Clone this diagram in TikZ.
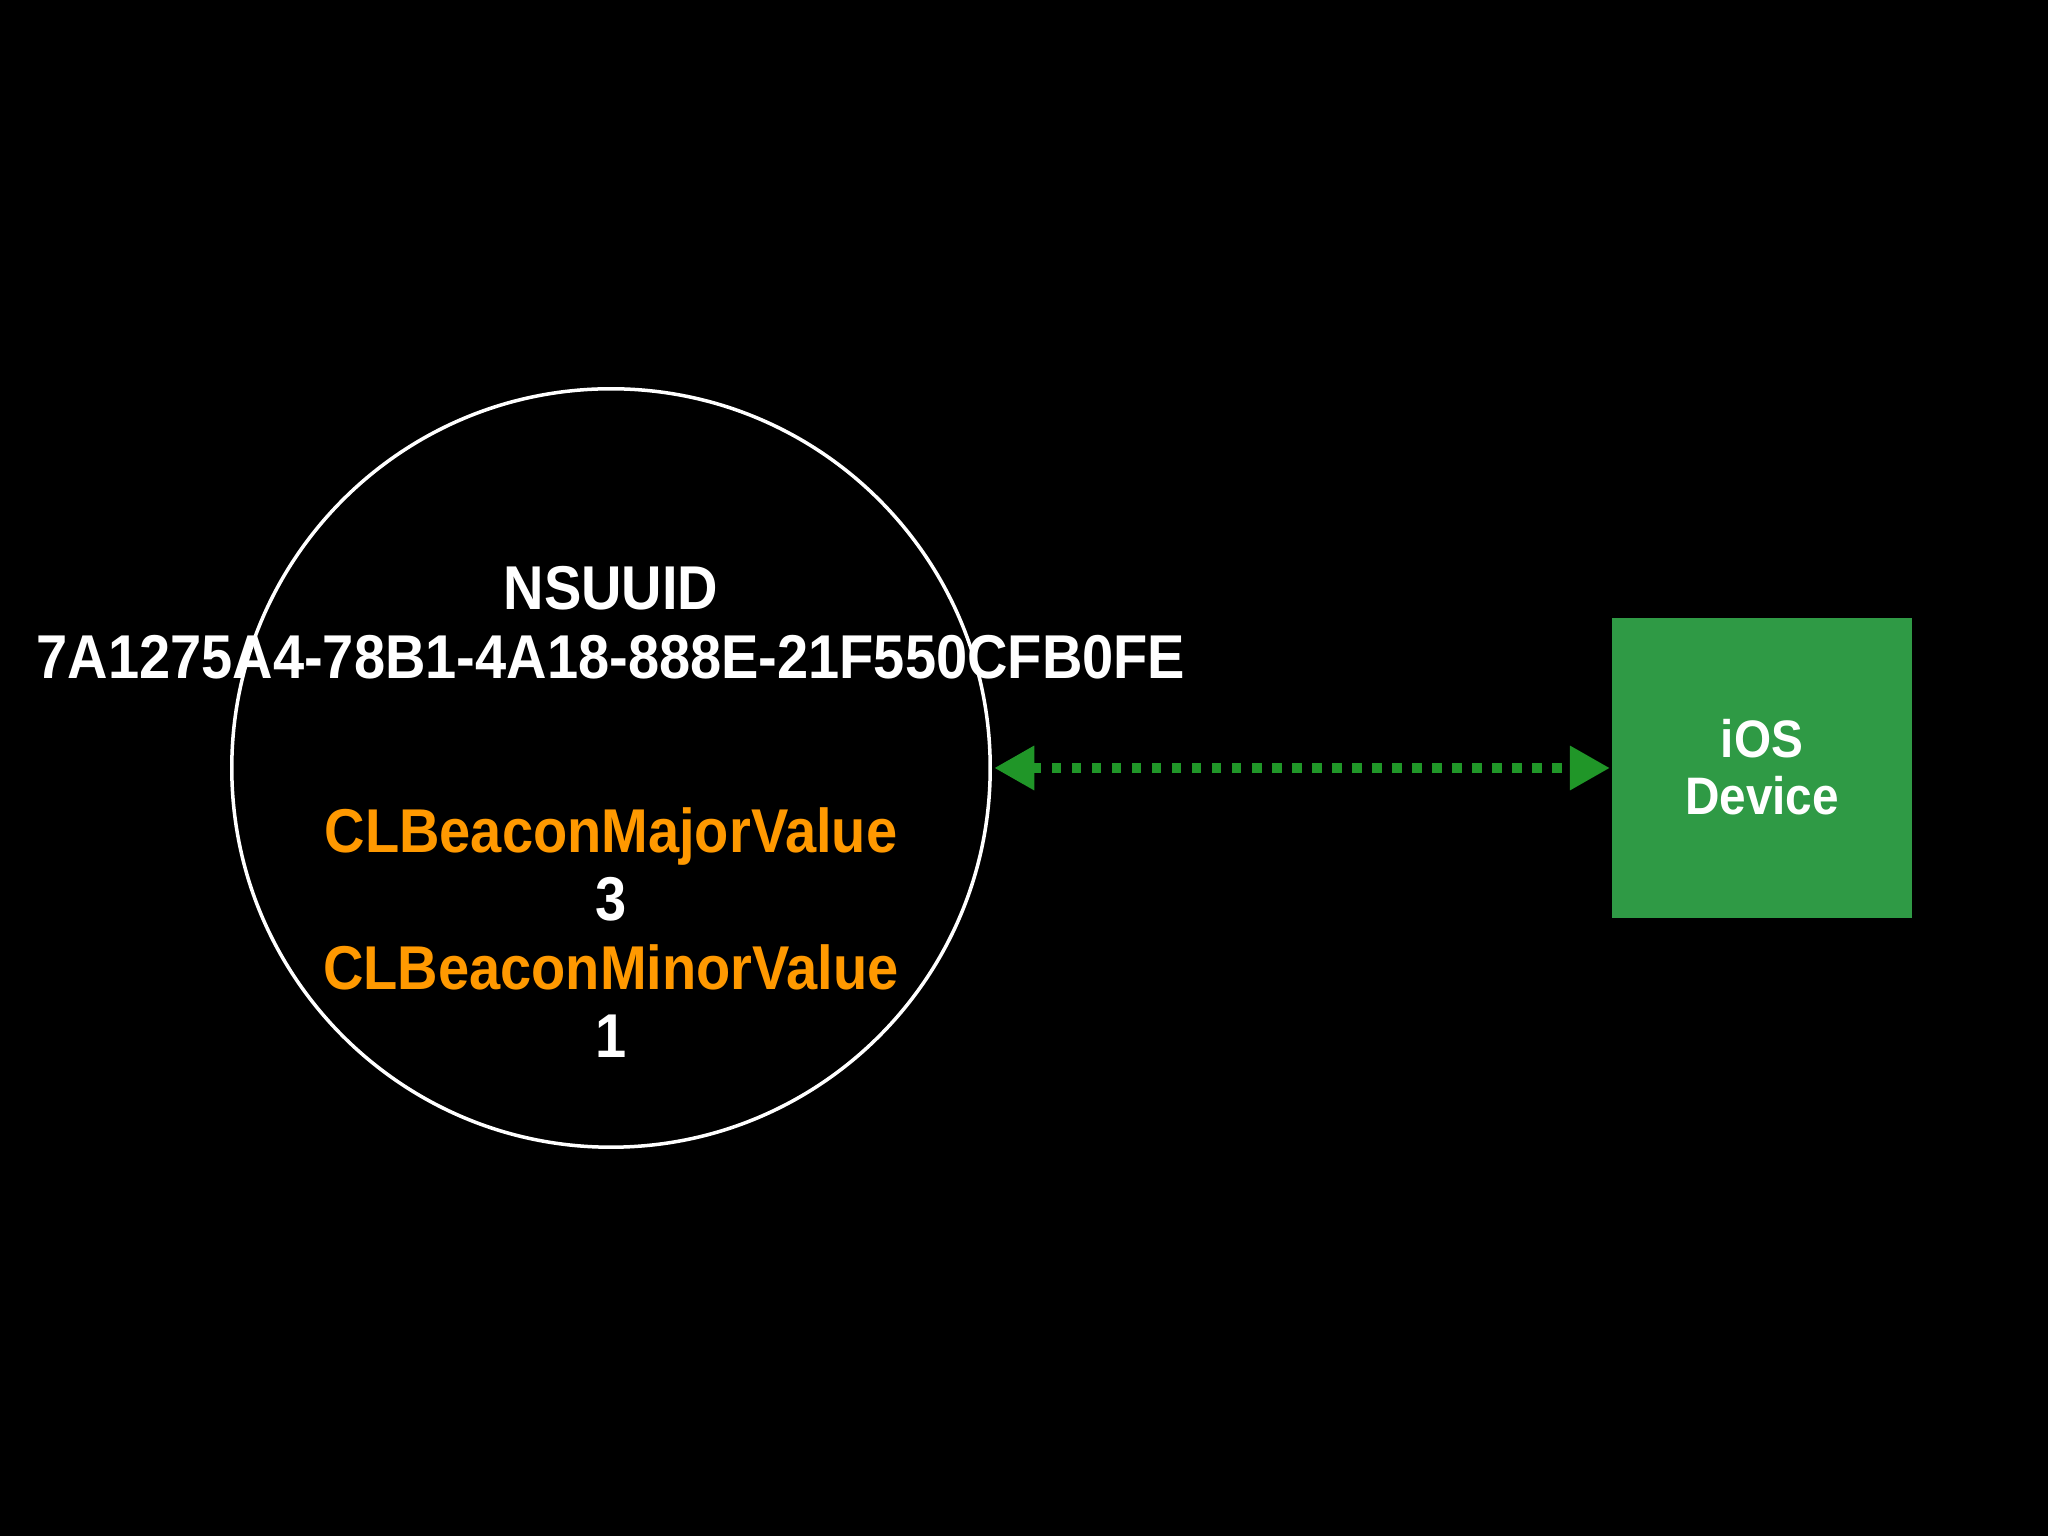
\documentclass[tikz,border=0pt]{standalone}
\usepackage{fontspec}
\setmainfont{Liberation Sans}[FakeStretch=0.905]
\usetikzlibrary{arrows.meta}
\definecolor{beaconorange}{RGB}{255,153,0}
\definecolor{boxgreen}{RGB}{47,154,69}
\definecolor{arrowgreen}{RGB}{32,150,40}
\tikzset{
  bigtext/.style={anchor=base, inner sep=0pt, font=\fontsize{17.6}{21}\selectfont\bfseries},
  whitetext/.style={bigtext, text=white},
  orangetext/.style={bigtext, text=beaconorange},
  boxtext/.style={anchor=base, inner sep=0pt, text=white, font=\fontsize{15}{18}\selectfont\bfseries},
  link/.style={arrowgreen, line width=0.095cm, dash pattern=on 0.095cm off 0.105cm,
    {Triangle[length=0.4cm,width=0.42cm]}-{Triangle[length=0.4cm,width=0.42cm]}}
}
\begin{document}
\begin{tikzpicture}[x=0.01cm,y=0.01cm]
\fill[black] (0,0) rectangle (2048,1536);
\useasboundingbox (0,0) rectangle (2048,1536);
\node[circle, draw=white, line width=0.035cm, minimum size=7.58cm, inner sep=0pt, outer sep=0.04cm] (beacon) at (611,768) {};
\node[whitetext] (uuidlabel) at (611,926) {NSUUID};
\node[whitetext] (uuid) at (611,857) {7A1275A4-78B1-4A18-888E-21F550CFB0FE};
\node[orangetext] (majorlabel) at (611,683) {CLBeaconMajorValue};
\node[whitetext] (major) at (611,615) {3};
\node[orangetext] (minorlabel) at (611,546) {CLBeaconMinorValue};
\node[whitetext] (minor) at (611,478) {1};
\node[fill=boxgreen, minimum size=3cm, inner sep=0pt, outer sep=0.02cm] (ios) at (1762,768) {};
\node[boxtext] (ioslabel) at (1762,778) {iOS};
\node[boxtext] (devicelabel) at (1762,721) {Device};
\draw[link] (beacon.east) -- (ios.west);
\end{tikzpicture}
\end{document}
